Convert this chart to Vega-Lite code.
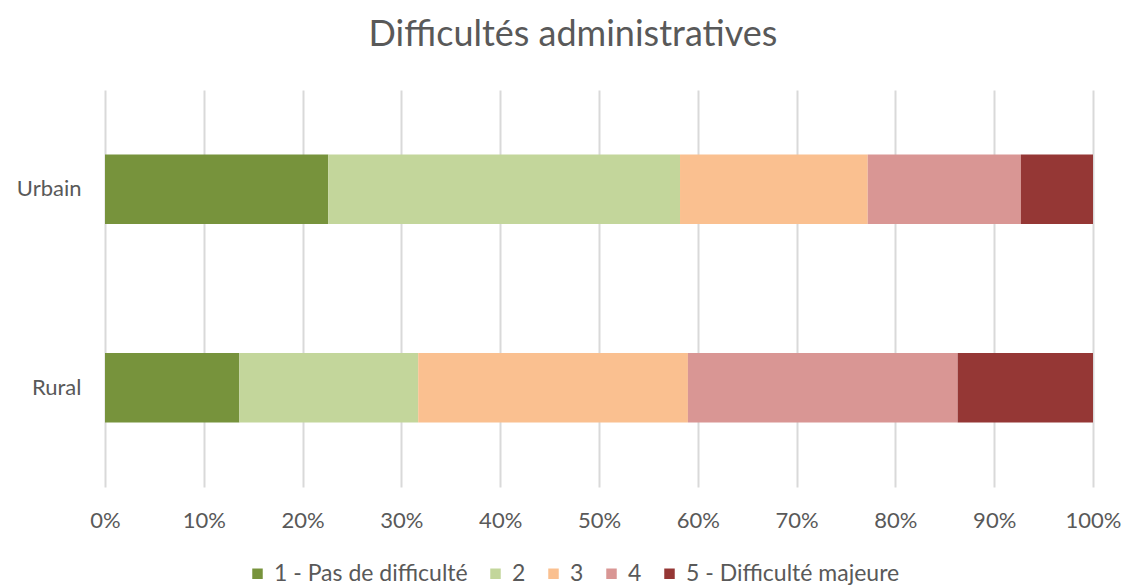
{
  "$schema": "https://vega.github.io/schema/vega-lite/v6.json",
  "width": 988,
  "height": 397,
  "autosize": {"type": "none"},
  "padding": {"left": 105, "top": 90, "right": 30, "bottom": 99},
  "background": "white",
  "config": {
    "view": {"stroke": null},
    "font": "Lato"
  },
  "title": {
    "text": "Difficultés administratives",
    "fontSize": 36,
    "font": "Lato",
    "fontWeight": "normal",
    "color": "#595959",
    "anchor": "middle",
    "dx": -26,
    "offset": 36
  },
  "data": {
    "values": [
      {"zone": "Urbain", "niveau": "1 - Pas de difficulté", "rang": 1, "pct": 22.6},
      {"zone": "Urbain", "niveau": "2", "rang": 2, "pct": 35.6},
      {"zone": "Urbain", "niveau": "3", "rang": 3, "pct": 19.0},
      {"zone": "Urbain", "niveau": "4", "rang": 4, "pct": 15.5},
      {"zone": "Urbain", "niveau": "5 - Difficulté majeure", "rang": 5, "pct": 7.3},
      {"zone": "Rural", "niveau": "1 - Pas de difficulté", "rang": 1, "pct": 13.6},
      {"zone": "Rural", "niveau": "2", "rang": 2, "pct": 18.1},
      {"zone": "Rural", "niveau": "3", "rang": 3, "pct": 27.3},
      {"zone": "Rural", "niveau": "4", "rang": 4, "pct": 27.3},
      {"zone": "Rural", "niveau": "5 - Difficulté majeure", "rang": 5, "pct": 13.7}
    ]
  },
  "mark": {"type": "bar", "stroke": null},
  "encoding": {
    "y": {
      "field": "zone",
      "type": "nominal",
      "sort": ["Urbain", "Rural"],
      "scale": {"paddingInner": 0.65, "paddingOuter": 0.325},
      "axis": {
        "title": null,
        "domain": false,
        "ticks": false,
        "labelFontSize": 22,
        "labelColor": "#595959",
        "labelPadding": 24
      }
    },
    "x": {
      "field": "pct",
      "type": "quantitative",
      "stack": "normalize",
      "scale": {"domain": [0, 1], "nice": false},
      "axis": {
        "title": null,
        "format": ".0%",
        "values": [0, 0.1, 0.2, 0.3, 0.4, 0.5, 0.6, 0.7, 0.8, 0.9, 1],
        "domain": false,
        "ticks": false,
        "grid": true,
        "gridColor": "#d9d9d9",
        "gridWidth": 2,
        "labelFlush": false,
        "labelFontSize": 22,
        "labelColor": "#595959",
        "labelPadding": 23
      }
    },
    "order": {"field": "rang", "type": "quantitative", "sort": "ascending"},
    "color": {
      "field": "niveau",
      "type": "nominal",
      "scale": {
        "domain": ["1 - Pas de difficulté", "2", "3", "4", "5 - Difficulté majeure"],
        "range": ["#77933C", "#C3D69B", "#FAC090", "#D99694", "#953735"]
      },
      "legend": {
        "title": null,
        "orient": "none",
        "direction": "horizontal",
        "legendX": 141,
        "legendY": 472,
        "symbolType": "square",
        "symbolSize": 110,
        "symbolStrokeWidth": 0,
        "labelFontSize": 23,
        "labelLimit": 400,
        "labelColor": "#595959",
        "labelOffset": 5,
        "columnPadding": 16
      }
    }
  }
}
